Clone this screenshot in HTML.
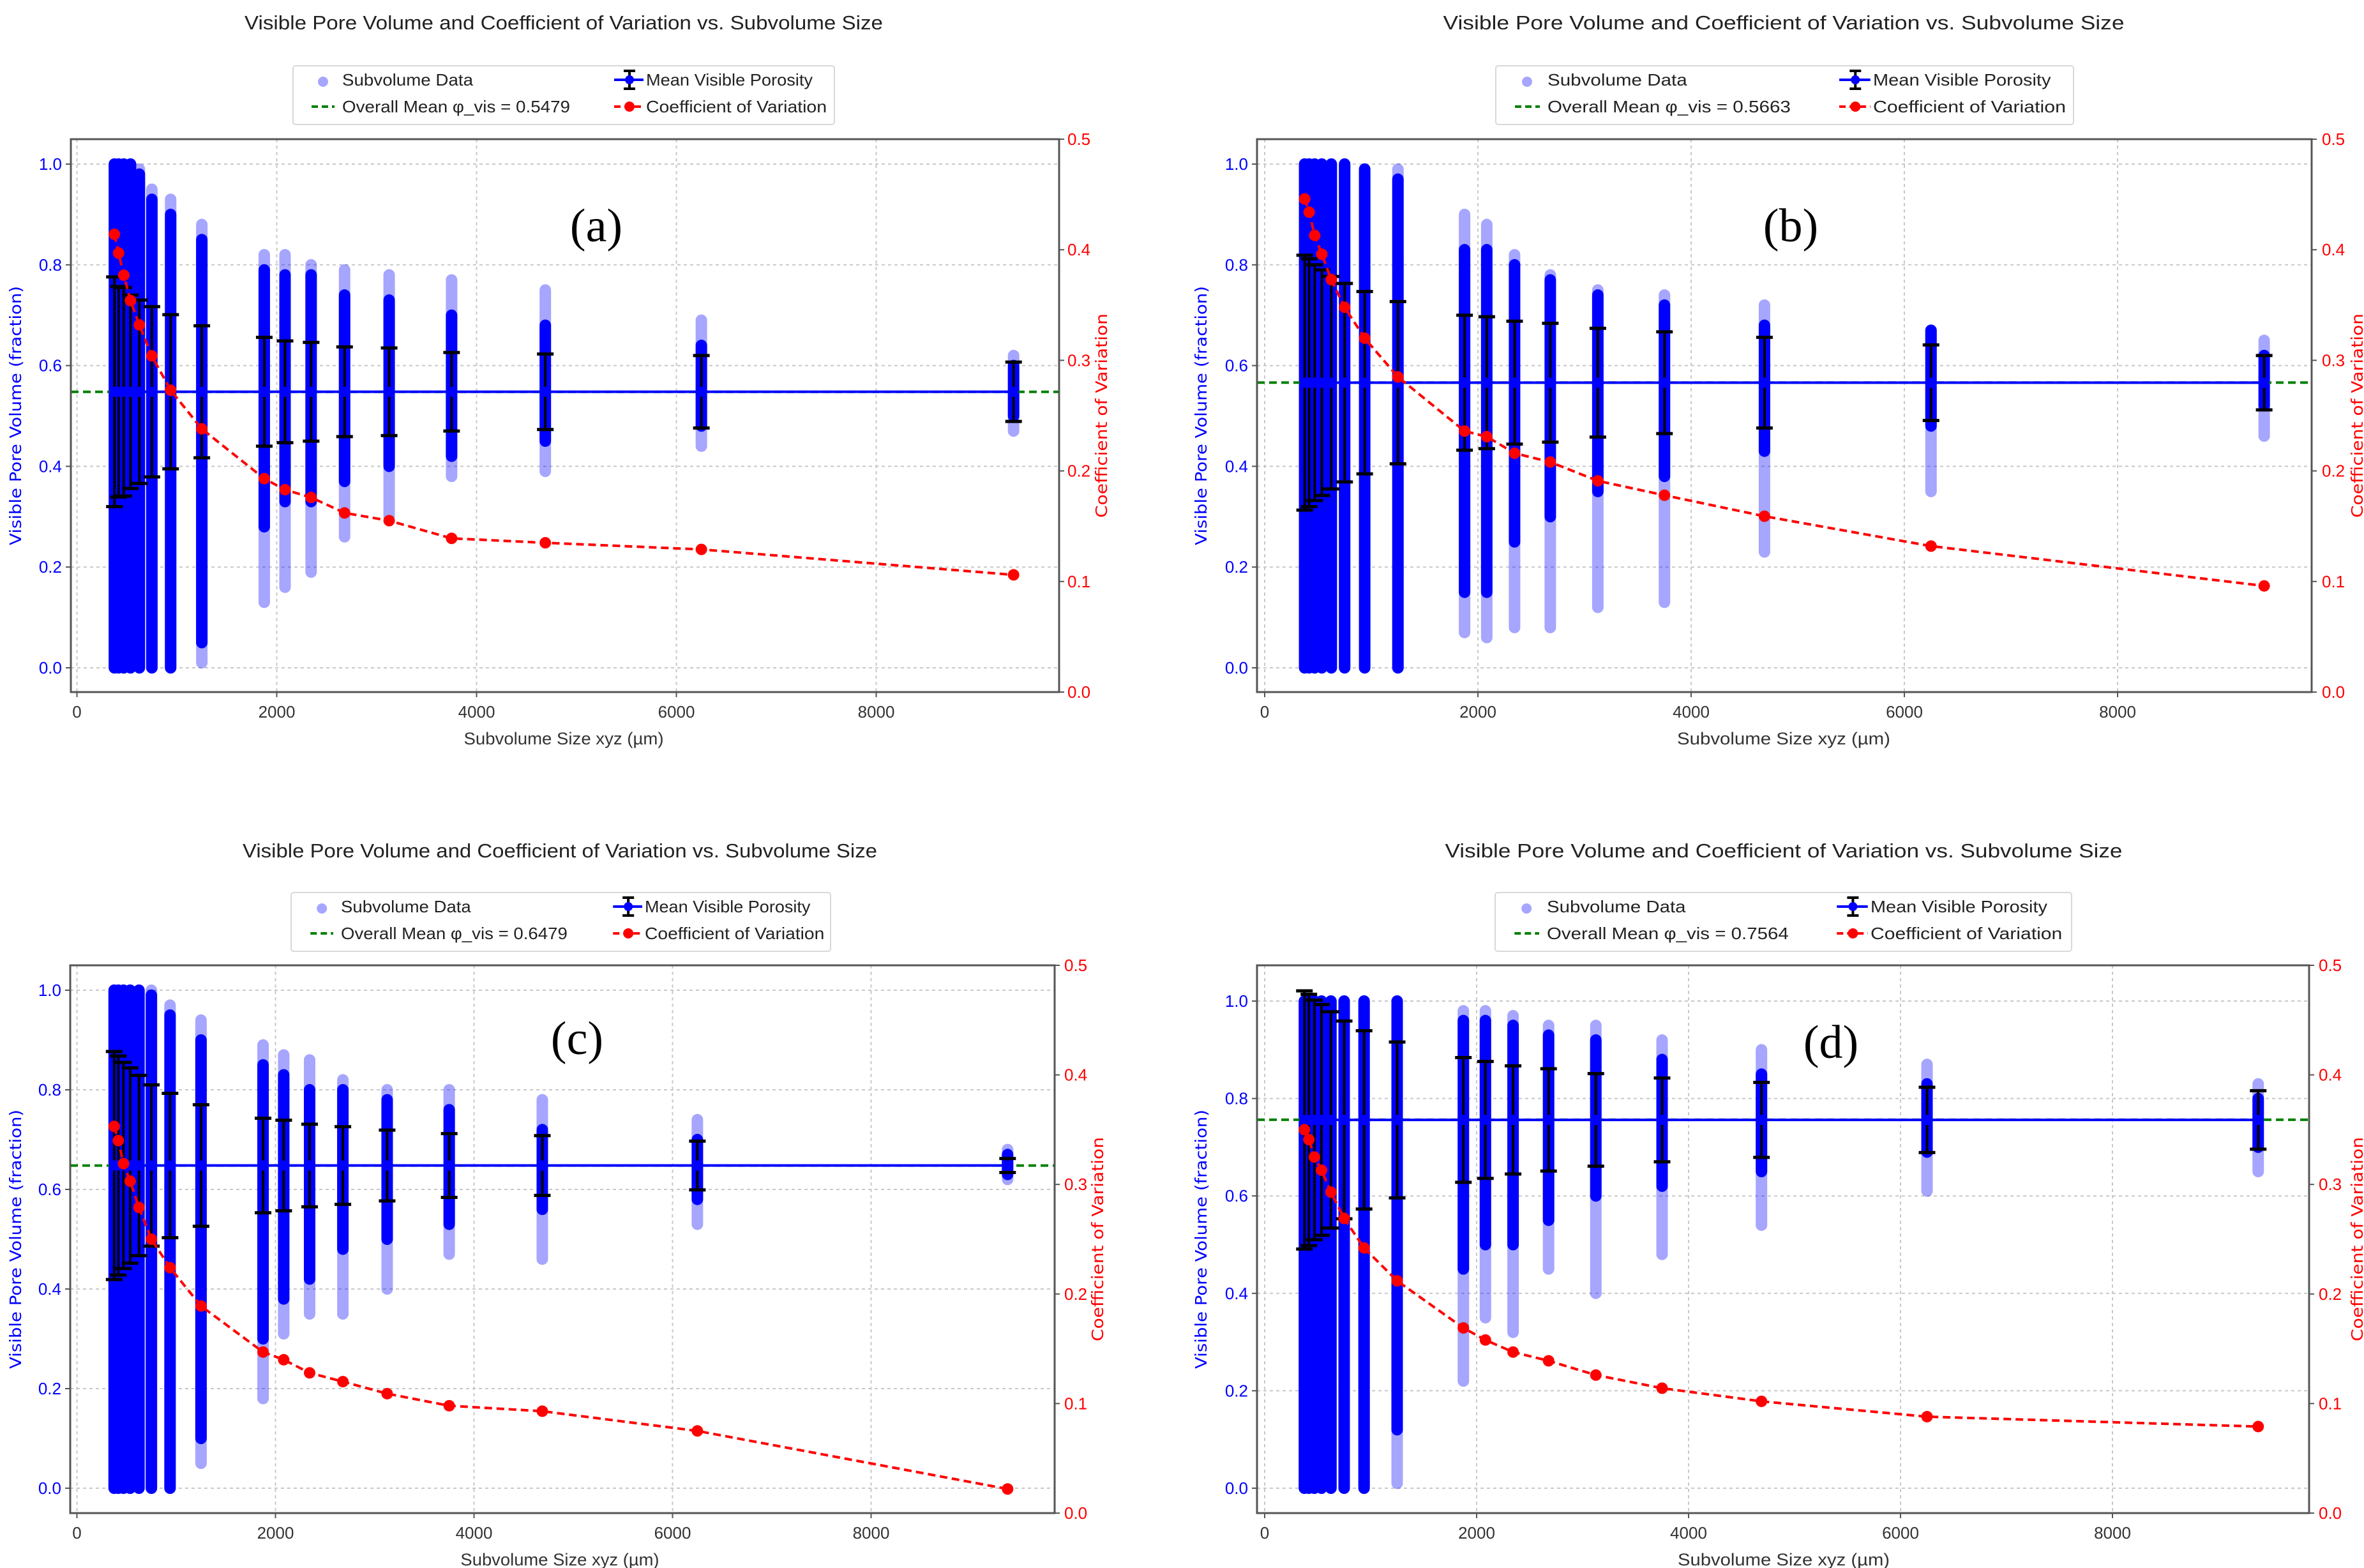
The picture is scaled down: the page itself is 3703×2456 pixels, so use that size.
<!DOCTYPE html>
<html><head><meta charset="utf-8">
<style>
html,body{margin:0;padding:0;background:#fff;}
svg{display:block;font-family:"Liberation Sans","DejaVu Sans",sans-serif;}
</style></head>
<body>
<svg id="fig" xmlns="http://www.w3.org/2000/svg" width="3703" height="2456" viewBox="0 0 3703 2456">
<rect x="0" y="0" width="3703" height="2456" fill="#fff"/>
</svg>
<script>
// shared categories
const sizes = [375,417,469,536,625,750,938,1250,1875,2083,2344,2679,3125,3750,4688,6250,9375];
const xTicks = [0,2000,4000,6000,8000];
const yTicksLeft = [0,0.2,0.4,0.6,0.8,1.0];
const yTicksRight = [0,0.1,0.2,0.3,0.4,0.5];

// panel (a)
const overallMeanA = 0.5479;
const meanA = [0.548,0.548,0.548,0.548,0.548,0.548,0.548,0.548,0.548,0.548,0.548,0.548,0.548,0.548,0.548,0.548,0.548];
const stdA = [0.228,0.209,0.207,0.192,0.182,0.169,0.153,0.131,0.108,0.101,0.098,0.089,0.087,0.078,0.075,0.072,0.059];
const cvA = [0.414,0.397,0.377,0.354,0.332,0.304,0.273,0.238,0.193,0.183,0.176,0.162,0.155,0.139,0.135,0.129,0.106];
const minA = [0,0,0,0,0,0,0,0.01,0.13,0.16,0.19,0.26,0.30,0.38,0.39,0.44,0.47];
const maxA = [1,1,1,1,0.99,0.95,0.93,0.88,0.82,0.82,0.80,0.79,0.78,0.77,0.75,0.69,0.62];
const loA = [0,0,0,0,0,0,0,0.05,0.28,0.33,0.33,0.37,0.40,0.42,0.45,0.48,0.50];
const hiA = [1,1,1,1,0.98,0.93,0.90,0.85,0.79,0.78,0.78,0.74,0.73,0.70,0.68,0.64,0.60];

// panel (b)
const overallMeanB = 0.5663;
const meanB = [0.566,0.566,0.566,0.566,0.566,0.566,0.566,0.566,0.566,0.566,0.566,0.566,0.566,0.566,0.566,0.566,0.566];
const stdB = [0.253,0.246,0.234,0.224,0.211,0.197,0.181,0.161,0.134,0.131,0.122,0.118,0.108,0.101,0.090,0.075,0.054];
const cvB = [0.446,0.434,0.413,0.396,0.373,0.348,0.320,0.285,0.236,0.231,0.216,0.208,0.191,0.178,0.159,0.132,0.096];
const minB = [0,0,0,0,0,0,0,0,0.07,0.06,0.08,0.08,0.12,0.13,0.23,0.35,0.46];
const maxB = [1,1,1,1,1,1,0.99,0.99,0.90,0.88,0.82,0.78,0.75,0.74,0.72,0.67,0.65];
const loB = [0,0,0,0,0,0,0,0,0.15,0.15,0.25,0.30,0.35,0.38,0.43,0.48,0.52];
const hiB = [1,1,1,1,1,1,0.99,0.97,0.83,0.83,0.80,0.77,0.74,0.72,0.68,0.67,0.62];

// panel (c)
const overallMeanC = 0.6479;
const meanC = [0.648,0.648,0.648,0.648,0.648,0.648,0.648,0.648,0.648,0.648,0.648,0.648,0.648,0.648,0.648,0.648,0.648];
const stdC = [0.229,0.220,0.207,0.196,0.181,0.162,0.145,0.122,0.095,0.091,0.083,0.078,0.071,0.064,0.060,0.049,0.014];
const cvC = [0.353,0.340,0.319,0.303,0.279,0.250,0.224,0.189,0.147,0.140,0.128,0.120,0.109,0.098,0.093,0.075,0.022];
const minC = [0,0,0,0,0,0,0,0.05,0.18,0.31,0.35,0.35,0.40,0.47,0.46,0.53,0.62];
const maxC = [1,1,1,1,1,1,0.97,0.94,0.89,0.87,0.86,0.82,0.80,0.80,0.78,0.74,0.68];
const loC = [0,0,0,0,0,0,0,0.10,0.30,0.38,0.42,0.48,0.50,0.53,0.56,0.58,0.63];
const hiC = [1,1,1,1,1,0.99,0.95,0.90,0.85,0.83,0.80,0.80,0.78,0.76,0.72,0.70,0.67];

// panel (d)
const overallMeanD = 0.7564;
const meanD = [0.756,0.756,0.756,0.756,0.756,0.756,0.756,0.756,0.756,0.756,0.756,0.756,0.756,0.756,0.756,0.756,0.756];
const stdD = [0.265,0.258,0.246,0.237,0.222,0.203,0.183,0.160,0.128,0.120,0.111,0.105,0.095,0.086,0.077,0.067,0.060];
const cvD = [0.350,0.341,0.325,0.313,0.293,0.269,0.242,0.212,0.169,0.158,0.147,0.139,0.126,0.114,0.102,0.088,0.079];
const minD = [0,0,0,0,0,0,0,0.01,0.22,0.35,0.32,0.45,0.40,0.48,0.54,0.61,0.65];
const maxD = [1,1,1,1,1,1,1,1,0.98,0.98,0.97,0.95,0.95,0.92,0.90,0.87,0.83];
const loD = [0,0,0,0,0,0,0,0.12,0.45,0.50,0.50,0.55,0.60,0.62,0.65,0.69,0.70];
const hiD = [1,1,1,1,1,1,1,1,0.96,0.96,0.95,0.93,0.92,0.88,0.85,0.83,0.80];

const NS = "http://www.w3.org/2000/svg";
const svg = document.getElementById('fig');
function mk(parent, tag, attrs, text){
  const e = document.createElementNS(NS, tag);
  for (const k in attrs) e.setAttribute(k, attrs[k]);
  if (text !== undefined) e.textContent = text;
  parent.appendChild(e);
  return e;
}

const layouts = [
 {id:'a', fl:111, ft:218, fr:1659, fb:1084, x0:120.5, xp:313, yl0:1046, yl1:257, tx:883, ty:46, lg:[459,103,848,92], c1:77, c2:553, lab:[934,352], sx:1.0, rt:1672, rl:1727, yl:26},
 {id:'b', fl:1969, ft:218, fr:3621, fb:1084, x0:1981, xp:334, yl0:1046, yl1:257, tx:2794, ty:46, lg:[2343,103,905,92], c1:81, c2:591, lab:[2805,352], sx:1.067, rt:3637, rl:3694, yl:1883},
 {id:'c', fl:110, ft:1512, fr:1652, fb:2370, x0:120.5, xp:311, yl0:2331, yl1:1551, tx:877, ty:1343, lg:[456,1398,845,92], c1:78, c2:554, lab:[904,1625], sx:0.994, rt:1667, rl:1721, yl:26},
 {id:'d', fl:1969, ft:1512, fr:3617, fb:2370, x0:1981, xp:332, yl0:2331, yl1:1568, tx:2794, ty:1343, lg:[2342,1398,903,92], c1:81, c2:588, lab:[2868,1631], sx:1.061, rt:3632, rl:3694, yl:1883}
];
const datasets = [
 {overall:overallMeanA, mean:meanA, std:stdA, cv:cvA, mn:minA, mx:maxA, lo:loA, hi:hiA},
 {overall:overallMeanB, mean:meanB, std:stdB, cv:cvB, mn:minB, mx:maxB, lo:loB, hi:hiB},
 {overall:overallMeanC, mean:meanC, std:stdC, cv:cvC, mn:minC, mx:maxC, lo:loC, hi:hiC},
 {overall:overallMeanD, mean:meanD, std:stdD, cv:cvD, mn:minD, mx:maxD, lo:loD, hi:hiD}
];

layouts.forEach((L, pi) => {
  const D = datasets[pi];
  const X = v => L.x0 + v / 2000 * L.xp;
  const YL = v => L.yl0 - v * (L.yl0 - L.yl1);
  const YR = v => L.fb - v / 0.5 * (L.fb - L.ft);
  const sx = L.sx;

  const g = mk(svg, 'g', {});
  
  

  // title
  const t = mk(g, 'text', {x:L.tx, y:L.ty, 'text-anchor':'middle', 'font-size':31, fill:'#222', textLength:1000*sx, lengthAdjust:'spacingAndGlyphs'}, 'Visible Pore Volume and Coefficient of Variation vs. Subvolume Size');
  
  

  // grid
  const grid = mk(g, 'g', {stroke:'#c8c8c8', 'stroke-width':2, 'stroke-dasharray':'5,5'});
  
  
  xTicks.forEach(v => { mk(grid, 'line', {x1:X(v), x2:X(v), y1:L.ft, y2:L.fb}); });
  yTicksLeft.forEach(v => { mk(grid, 'line', {x1:L.fl, x2:L.fr, y1:YL(v), y2:YL(v)}); });

  // scatter columns
  const sc = mk(g, 'g', {});
  
  
  const r = 9;
  sizes.forEach((s, i) => {
    const x = X(s);
    const yTop = YL(D.mx[i]) - r, yBot = YL(D.mn[i]) + r;
    const light = mk(sc, 'rect', {x:x-r, y:yTop, width:2*r, height:yBot-yTop, rx:r, fill:'#0000ff', 'fill-opacity':0.35});
    
    
    const dTop = YL(D.hi[i]) - r, dBot = YL(D.lo[i]) + r;
    const dense = mk(sc, 'rect', {x:x-r, y:dTop, width:2*r, height:dBot-dTop, rx:r, fill:'#0000ff'});
    
    
  });

  // overall mean dashed green
  const om = mk(g, 'line', {x1:L.fl, x2:L.fr, y1:YL(D.overall), y2:YL(D.overall), stroke:'#008000', 'stroke-width':4, 'stroke-dasharray':'12,7'});
  
  

  // mean line + error bars
  const ml = mk(g, 'polyline', {points:sizes.map((s,i)=>X(s)+','+YL(D.mean[i])).join(' '), fill:'none', stroke:'#0000ff', 'stroke-width':4});
  
  
  const eb = mk(g, 'g', {stroke:'#000'});
  
  
  sizes.forEach((s, i) => {
    const x = X(s), up = YL(D.mean[i] + D.std[i]), dn = YL(D.mean[i] - D.std[i]);
    const b = mk(eb, 'line', {x1:x, x2:x, y1:up, y2:dn, 'stroke-width':4});
    
    
    mk(eb, 'line', {x1:x-13, x2:x+13, y1:up, y2:up, 'stroke-width':5});
    mk(eb, 'line', {x1:x-13, x2:x+13, y1:dn, y2:dn, 'stroke-width':5});
    const p = mk(g, 'circle', {cx:x, cy:YL(D.mean[i]), r:8, fill:'#0000ff'});
    
    
  });

  // CV line
  const cvl = mk(g, 'polyline', {points:sizes.map((s,i)=>X(s)+','+YR(D.cv[i])).join(' '), fill:'none', stroke:'#ff0000', 'stroke-width':4, 'stroke-dasharray':'12,7'});
  
  
  sizes.forEach((s, i) => {
    const c = mk(g, 'circle', {cx:X(s), cy:YR(D.cv[i]), r:9, fill:'#ff0000'});
    
    
  });

  // frame
  const fr = mk(g, 'rect', {x:L.fl, y:L.ft, width:L.fr-L.fl, height:L.fb-L.ft, fill:'none', stroke:'#555', 'stroke-width':3});
  
  

  // x ticks
  const xa = mk(g, 'g', {'font-size':26, fill:'#333', 'text-anchor':'middle'});
  
  
  xTicks.forEach(v => {
    mk(xa, 'line', {x1:X(v), x2:X(v), y1:L.fb, y2:L.fb+8, stroke:'#555', 'stroke-width':2});
    const tl = mk(xa, 'text', {x:X(v), y:L.fb+40}, String(v));
    
    
  });
  const xl = mk(g, 'text', {x:L.tx, y:L.fb+82, 'text-anchor':'middle', 'font-size':27, fill:'#333', textLength:313*sx, lengthAdjust:'spacingAndGlyphs'}, 'Subvolume Size xyz (µm)');
  
  

  // left y ticks
  const ya = mk(g, 'g', {'font-size':26, fill:'#0000ff', 'text-anchor':'end'});
  
  
  yTicksLeft.forEach(v => {
    mk(ya, 'line', {x1:L.fl-8, x2:L.fl, y1:YL(v), y2:YL(v), stroke:'#555', 'stroke-width':2});
    const tl = mk(ya, 'text', {x:L.fl-14, y:YL(v)+9}, v.toFixed(1));
    
    
  });
  const cyMid = (L.ft + L.fb) / 2;
  const yl = mk(g, 'text', {x:L.yl, y:cyMid, transform:'rotate(-90 '+L.yl+' '+cyMid+')', 'text-anchor':'middle', 'dominant-baseline':'middle', 'font-size':25, fill:'#0000ff', textLength:406, lengthAdjust:'spacingAndGlyphs', 'font-family':'DejaVu Sans, sans-serif'}, 'Visible Pore Volume (fraction)');
  
  

  // right y ticks
  const ra = mk(g, 'g', {'font-size':26, fill:'#ff0000', 'text-anchor':'start'});
  
  
  yTicksRight.forEach(v => {
    mk(ra, 'line', {x1:L.fr, x2:L.fr+8, y1:YR(v), y2:YR(v), stroke:'#555', 'stroke-width':2});
    const tl = mk(ra, 'text', {x:L.rt, y:YR(v)+9}, v.toFixed(1));
    
    
  });
  const rl = mk(g, 'text', {x:L.rl, y:cyMid, transform:'rotate(-90 '+L.rl+' '+cyMid+')', 'text-anchor':'middle', 'dominant-baseline':'middle', 'font-size':25, fill:'#ff0000', textLength:320, lengthAdjust:'spacingAndGlyphs', 'font-family':'DejaVu Sans, sans-serif'}, 'Coefficient of Variation');
  
  

  // panel label
  const pl = mk(g, 'text', {x:L.lab[0], y:L.lab[1]+26, 'text-anchor':'middle', 'font-size':74, fill:'#000', 'font-family':'Liberation Serif, serif'}, '('+L.id+')');
  
  

  // legend
  const [lx, ly, lw, lh] = L.lg;
  const lgG = mk(g, 'g', {'font-size':26, fill:'#222'});
  
  
  mk(lgG, 'rect', {x:lx, y:ly, width:lw, height:lh, rx:4, fill:'#fff', stroke:'#d8d8d8', 'stroke-width':2});
  const r1 = ly + 22, r2 = ly + 64;
  const m1 = lx + L.c1 - 44*sx, m2 = lx + L.c2 - 44*sx;
  mk(lgG, 'circle', {cx:lx + L.c1 - 30*sx, cy:r1+3, r:8, fill:'#0000ff', 'fill-opacity':0.35});
  const e1 = mk(lgG, 'text', {x:lx+L.c1, y:r1+9, textLength:205*sx, lengthAdjust:'spacingAndGlyphs'}, 'Subvolume Data');
  
  
  mk(lgG, 'line', {x1:m1-4, x2:m1+44*sx-12, y1:r2, y2:r2, stroke:'#008000', 'stroke-width':4, 'stroke-dasharray':'10,6'});
  const e2 = mk(lgG, 'text', {x:lx+L.c1, y:r2+9, textLength:357*sx, lengthAdjust:'spacingAndGlyphs'}, 'Overall Mean φ_vis = ' + D.overall.toFixed(4));
  
  
  const mc = m2 + 18*sx;
  mk(lgG, 'line', {x1:m2-6, x2:m2+40*sx, y1:r1, y2:r1, stroke:'#0000ff', 'stroke-width':4});
  mk(lgG, 'line', {x1:mc, x2:mc, y1:r1-14, y2:r1+14, stroke:'#000', 'stroke-width':4});
  mk(lgG, 'line', {x1:mc-9, x2:mc+9, y1:r1-14, y2:r1-14, stroke:'#000', 'stroke-width':4});
  mk(lgG, 'line', {x1:mc-9, x2:mc+9, y1:r1+14, y2:r1+14, stroke:'#000', 'stroke-width':4});
  mk(lgG, 'circle', {cx:mc, cy:r1, r:7, fill:'#0000ff'});
  const e3 = mk(lgG, 'text', {x:lx+L.c2, y:r1+9, textLength:261*sx, lengthAdjust:'spacingAndGlyphs'}, 'Mean Visible Porosity');
  
  
  mk(lgG, 'line', {x1:m2-6, x2:m2+40*sx, y1:r2, y2:r2, stroke:'#ff0000', 'stroke-width':4, 'stroke-dasharray':'10,6'});
  mk(lgG, 'circle', {cx:mc, cy:r2, r:8, fill:'#ff0000'});
  const e4 = mk(lgG, 'text', {x:lx+L.c2, y:r2+9, textLength:283*sx, lengthAdjust:'spacingAndGlyphs'}, 'Coefficient of Variation');
  
  
});
</script>
</body></html>
